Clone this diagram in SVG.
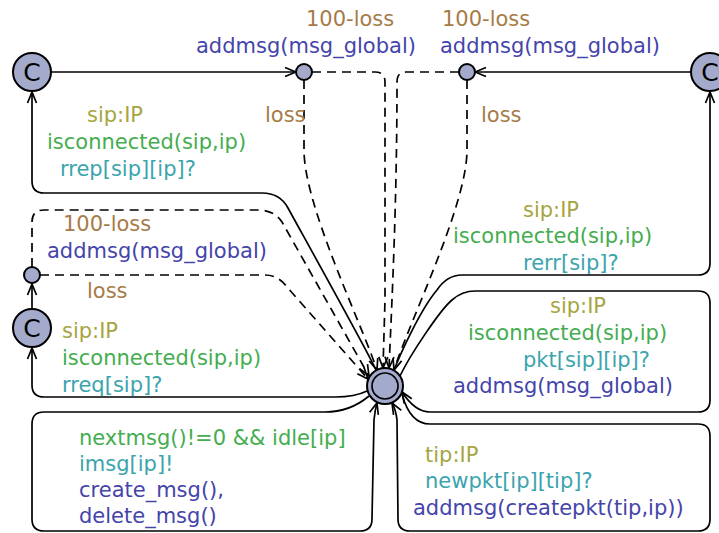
<svg xmlns="http://www.w3.org/2000/svg" width="719" height="533" viewBox="0 0 719 533">
<style>
text{font-family:"DejaVu Sans","Liberation Sans",sans-serif;font-size:21px}
.sel{fill:#a6a53f}
.grd{fill:#44ad4f}
.syn{fill:#3ba4ad}
.upd{fill:#4444aa}
.prb{fill:#a67b48}
.ln{fill:none;stroke:#000;stroke-width:1.7}
.ds{stroke-dasharray:9,6}
.loc{fill:#a3aacc;stroke:#000;stroke-width:2}
.cl{font-size:25px;fill:#000;text-anchor:middle}
</style>
<defs>
<marker id="ar" markerUnits="userSpaceOnUse" viewBox="-13 -7 15 14" markerWidth="15" markerHeight="14" refX="0" refY="0" orient="auto">
<path d="M-11,-4.5 L0,0 L-11,4.5" fill="none" stroke="#000" stroke-width="1.7"/>
</marker>
</defs>
<g id="connectors">
<path class="ln" d="M51,72 L296,72" marker-end="url(#ar)"/>
<path class="ln" d="M691,72 L475,72" marker-end="url(#ar)"/>
<path class="ln ds" d="M304,80 L304,150 C304,205 360,320 377,370" marker-end="url(#ar)"/>
<path class="ln ds" d="M312,72 L375,72 Q385,72 385,82 L385,300 L383,368" marker-end="url(#ar)"/>
<path class="ln ds" d="M459,72 L406,72 Q397,72 397,82 C397,200 392,300 389,368" marker-end="url(#ar)"/>
<path class="ln ds" d="M467,80 L467,150 C467,205 410,320 394,370" marker-end="url(#ar)"/>
<path class="ln" d="M376,370 C368,352 300,230 288,208 Q280,193 262,193 L44,193 Q32,193 32,181 L32,92" marker-end="url(#ar)"/>
<path class="ln" d="M32,309 L32,284" marker-end="url(#ar)"/>
<path class="ln ds" d="M32,267 L32,222 Q32,210 44,210 L258,210 Q274,210 282,222 L369,376" marker-end="url(#ar)"/>
<path class="ln ds" d="M40,275 L265,275 Q278,275 287,287 L368,379" marker-end="url(#ar)"/>
<path class="ln" d="M367,391 Q355,397 335,397 L44,397 Q32,397 32,385 L32,348" marker-end="url(#ar)"/>
<path class="ln" d="M369,396 Q350,412 325,412 L44,412 Q32,412 32,424 L32,519 Q32,531 44,531 L360,531 Q372,531 372,519 L374,420 Q375,410 377,403" marker-end="url(#ar)"/>
<path class="ln" d="M402,394 Q410,424 430,424 L698,424 Q710,424 710,436 L710,519 Q710,531 698,531 L410,531 Q398,531 398,519 L397,420 Q396,410 392,403" marker-end="url(#ar)"/>
<path class="ln" d="M400,376 C410,355 440,310 452,300 Q462,291 475,291 L698,291 Q710,291 710,303 L710,400 Q710,412 698,412 L430,412 Q415,412 402,392" marker-end="url(#ar)"/>
<path class="ln" d="M394,370 C400,355 420,310 437,290 Q447,275 462,275 L698,275 Q710,275 710,263 L710,92" marker-end="url(#ar)"/>
</g>
<g id="n_init">
<circle class="loc" cx="385" cy="386" r="18"/>
<circle cx="385" cy="386" r="13" fill="none" stroke="#000" stroke-width="1.7"/>
</g>
<g id="n_c_topleft">
<circle class="loc" cx="32" cy="72" r="19"/>
<text class="cl" x="32" y="81">C</text>
</g>
<g id="n_c_topright">
<circle class="loc" cx="710" cy="72" r="19"/>
<text class="cl" x="710" y="81">C</text>
</g>
<g id="n_c_left">
<circle class="loc" cx="32" cy="328" r="19"/>
<text class="cl" x="32" y="337">C</text>
</g>
<g id="b_top1"><circle class="loc" cx="304" cy="72" r="8"/></g>
<g id="b_top2"><circle class="loc" cx="467" cy="72" r="8"/></g>
<g id="b_left"><circle class="loc" cx="32" cy="275" r="8"/></g>
<g id="labels">
<text class="prb" x="306" y="26">100-loss</text>
<text class="upd" x="196" y="53">addmsg(msg_global)</text>
<text class="prb" x="442" y="26">100-loss</text>
<text class="upd" x="440" y="53">addmsg(msg_global)</text>
<text class="prb" x="265" y="122">loss</text>
<text class="prb" x="481" y="122">loss</text>
<text class="sel" x="87" y="122">sip:IP</text>
<text class="grd" x="47" y="149">isconnected(sip,ip)</text>
<text class="syn" x="60" y="176">rrep[sip][ip]?</text>
<text class="prb" x="63" y="231">100-loss</text>
<text class="upd" x="47" y="258">addmsg(msg_global)</text>
<text class="prb" x="87" y="298">loss</text>
<text class="sel" x="62" y="338">sip:IP</text>
<text class="grd" x="62" y="365">isconnected(sip,ip)</text>
<text class="syn" x="62" y="392">rreq[sip]?</text>
<text class="sel" x="523" y="217">sip:IP</text>
<text class="grd" x="453" y="243">isconnected(sip,ip)</text>
<text class="syn" x="523" y="270">rerr[sip]?</text>
<text class="sel" x="550" y="313">sip:IP</text>
<text class="grd" x="468" y="340">isconnected(sip,ip)</text>
<text class="syn" x="523" y="367">pkt[sip][ip]?</text>
<text class="upd" x="453" y="393">addmsg(msg_global)</text>
<text class="grd" x="79" y="445">nextmsg()!=0 &amp;&amp; idle[ip]</text>
<text class="syn" x="79" y="471">imsg[ip]!</text>
<text class="upd" x="79" y="497">create_msg(),</text>
<text class="upd" x="79" y="523">delete_msg()</text>
<text class="sel" x="425" y="462">tip:IP</text>
<text class="syn" x="425" y="488">newpkt[ip][tip]?</text>
<text class="upd" x="413" y="515">addmsg(createpkt(tip,ip))</text>
</g>
</svg>
